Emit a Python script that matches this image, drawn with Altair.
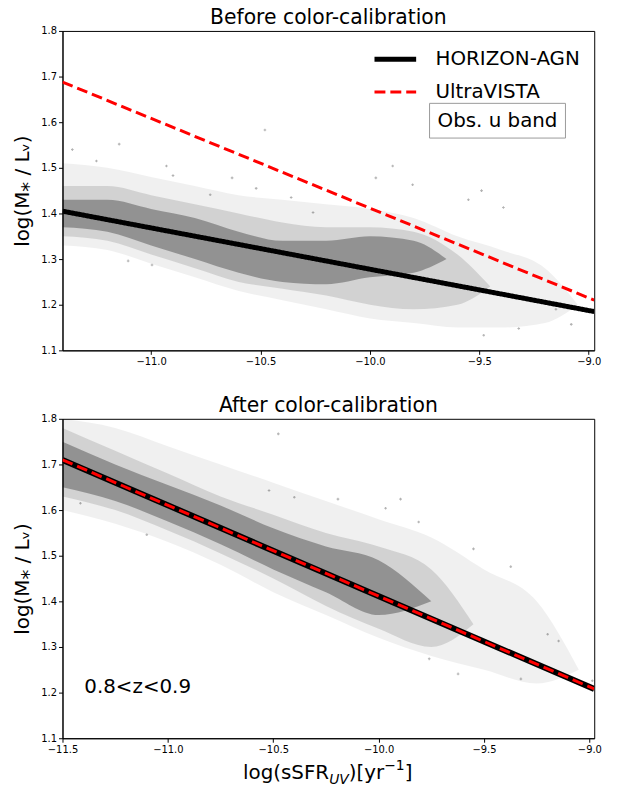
import altair as alt
import pandas as pd

FONT = "DejaVu Sans"
W, H = 536, 322

# ---------------- top panel: before colour calibration ----------------
top_x_domain = [-11.405, -8.975]
top_x_ticks = [-11.0, -10.5, -10.0, -9.5, -9.0]
top_fit_x = [-11.405, -8.975]
top_horizon_y = [1.405, 1.185]
top_vista_y = [1.688, 1.210]

top_outer_x = [-11.405, -11.2, -11.0, -10.8, -10.6, -10.4, -10.2, -10.0, -9.8, -9.6, -9.4, -9.2, -9.05]
top_outer_lo = [1.33, 1.32, 1.29, 1.26, 1.23, 1.21, 1.19, 1.17, 1.16, 1.15, 1.15, 1.16, 1.20]
top_outer_hi = [1.51, 1.50, 1.48, 1.46, 1.44, 1.43, 1.42, 1.41, 1.39, 1.35, 1.32, 1.28, 1.20]

top_mid_x = [-11.405, -11.2, -11.0, -10.8, -10.6, -10.4, -10.2, -10.0, -9.8, -9.6, -9.45]
top_mid_lo = [1.35, 1.34, 1.31, 1.28, 1.25, 1.235, 1.22, 1.20, 1.19, 1.20, 1.24]
top_mid_hi = [1.46, 1.46, 1.44, 1.42, 1.40, 1.38, 1.37, 1.37, 1.36, 1.31, 1.24]

top_core_x = [-11.405, -11.2, -11.0, -10.8, -10.6, -10.4, -10.2, -10.0, -9.8, -9.65]
top_core_lo = [1.37, 1.36, 1.33, 1.30, 1.27, 1.25, 1.245, 1.26, 1.27, 1.30]
top_core_hi = [1.43, 1.43, 1.41, 1.39, 1.36, 1.34, 1.34, 1.35, 1.34, 1.30]

top_pts_x = [-11.36, -11.25, -11.146, -11.105, -10.996, -10.48, -9.973, -9.896, -9.805,
             -9.55, -9.49, -9.39, -9.48, -9.32, -9.15, -9.08, -10.93, -10.90, -10.63,
             -10.52, -10.73, -10.36, -10.26]
top_pts_y = [1.54, 1.515, 1.552, 1.296, 1.287, 1.583, 1.478, 1.504, 1.463,
             1.43, 1.45, 1.413, 1.133, 1.148, 1.19, 1.157, 1.504, 1.483, 1.478,
             1.455, 1.441, 1.435, 1.402]

# ---------------- bottom panel: after colour calibration ----------------
bot_x_domain = [-11.5, -8.977]
bot_x_ticks = [-11.5, -11.0, -10.5, -10.0, -9.5, -9.0]
bot_fit_x = [-11.5, -8.977]
bot_fit_y = [1.71, 1.208]

bot_outer_x = [-11.5, -11.25, -11.0, -10.75, -10.5, -10.25, -10.0, -9.75, -9.5, -9.25, -9.05]
bot_outer_lo = [1.60, 1.57, 1.53, 1.48, 1.42, 1.37, 1.32, 1.28, 1.25, 1.22, 1.25]
bot_outer_hi = [1.80, 1.78, 1.74, 1.70, 1.66, 1.62, 1.58, 1.54, 1.47, 1.40, 1.25]

bot_mid_x = [-11.5, -11.25, -11.0, -10.75, -10.5, -10.25, -10.0, -9.75, -9.55]
bot_mid_lo = [1.63, 1.60, 1.555, 1.505, 1.45, 1.39, 1.34, 1.30, 1.35]
bot_mid_hi = [1.78, 1.73, 1.68, 1.63, 1.59, 1.55, 1.52, 1.47, 1.35]

bot_core_x = [-11.5, -11.25, -11.0, -10.75, -10.5, -10.25, -10.0, -9.75]
bot_core_lo = [1.65, 1.62, 1.575, 1.525, 1.47, 1.42, 1.37, 1.40]
bot_core_hi = [1.75, 1.70, 1.655, 1.61, 1.56, 1.52, 1.49, 1.40]

bot_pts_x = [-11.415, -11.10, -10.52, -10.476, -10.40, -10.193, -9.967, -9.896, -9.81,
             -9.55, -9.373, -9.198, -9.146, -9.325, -8.986, -9.623, -9.76]
bot_pts_y = [1.615, 1.546, 1.643, 1.767, 1.628, 1.624, 1.604, 1.624, 1.574,
             1.515, 1.476, 1.328, 1.313, 1.23, 1.226, 1.241, 1.274]

y_ticks = [1.1, 1.2, 1.3, 1.4, 1.5, 1.6, 1.7, 1.8]
series_names = ["HORIZON-AGN", "UltraVISTA"]
Y_TITLE = "log(M\u204e / L\u1d65)"
LABEL_EXPR = "replace(format(datum.value, '.1f'), '-', '\u2212')"


def x_enc(field, domain, ticks):
    return alt.X(f"{field}:Q", title=None,
                 scale=alt.Scale(domain=domain, nice=False, zero=False),
                 axis=alt.Axis(values=ticks, labelExpr=LABEL_EXPR, grid=False,
                               tickSize=4, labelPadding=2, labelFontSize=10,
                               labelFlush=False,
                               labelColor="black", tickColor="black",
                               domainColor="black", labelFont=FONT))


def y_enc(field):
    return alt.Y(f"{field}:Q", title=Y_TITLE,
                 scale=alt.Scale(domain=[1.1, 1.8], nice=False, zero=False),
                 axis=alt.Axis(values=y_ticks, format=".1f", grid=False,
                               tickSize=4, labelPadding=2, labelFontSize=10,
                               labelFlush=False,
                               labelColor="black", tickColor="black",
                               domainColor="black", labelFont=FONT,
                               titleFontSize=20, titleFontWeight="normal",
                               titleFont=FONT, titleColor="black", titlePadding=8))


def bands(xs, los, his, opacity, domain, ticks):
    df = pd.DataFrame({"x": xs, "lo": los, "hi": his})
    return alt.Chart(df).mark_area(color="black", opacity=opacity,
                                   interpolate="monotone", clip=True).encode(
        x=x_enc("x", domain, ticks), y=y_enc("lo"), y2="hi:Q")


def points(xs, ys, domain, ticks):
    df = pd.DataFrame({"x": xs, "y": ys})
    return alt.Chart(df).mark_point(shape="cross", size=7, filled=True,
                                    color="black", opacity=0.3, clip=True).encode(
        x=x_enc("x", domain, ticks), y=y_enc("y"))


# ---- top panel ----
top_lines_df = pd.DataFrame({
    "x": top_fit_x + top_fit_x,
    "y": top_horizon_y + top_vista_y,
    "series": [series_names[0]] * 2 + [series_names[1]] * 2,
})
leg = dict(orient="none", legendX=312, legendY=5, padding=0, labelFontSize=20,
           labelFont=FONT, labelColor="black", labelOffset=17, rowPadding=-4,
           symbolType="stroke", symbolSize=1764, labelLimit=300)
top_lines = alt.Chart(top_lines_df).mark_line(clip=True, strokeCap="butt").encode(
    x=x_enc("x", top_x_domain, top_x_ticks), y=y_enc("y"),
    color=alt.Color("series:N", title=None,
                    scale=alt.Scale(domain=series_names, range=["black", "red"]),
                    legend=alt.Legend(**leg)),
    strokeDash=alt.StrokeDash("series:N", title=None,
                              scale=alt.Scale(domain=series_names, range=[[1, 0], [11, 5]]),
                              legend=alt.Legend(**leg)),
    strokeWidth=alt.StrokeWidth("series:N", title=None,
                                scale=alt.Scale(domain=series_names, range=[5, 3]),
                                legend=alt.Legend(**leg)),
)

box_df = pd.DataFrame({"t": ["Obs. u band"]})
box_rect = alt.Chart(box_df).mark_rect(fill="white", stroke="#9a9a9a", strokeWidth=1).encode(
    x=alt.value(370), x2=alt.value(507), y=alt.value(73), y2=alt.value(108))
box_text = alt.Chart(box_df).mark_text(fontSize=20, font=FONT, color="black",
                                       align="center", baseline="middle").encode(
    x=alt.value(438.5), y=alt.value(91), text="t:N")

TITLE_KW = dict(fontSize=20.5, fontWeight="normal", font=FONT, color="black", offset=-3)

top = alt.layer(
    bands(top_outer_x, top_outer_lo, top_outer_hi, 0.06, top_x_domain, top_x_ticks),
    bands(top_mid_x, top_mid_lo, top_mid_hi, 0.12, top_x_domain, top_x_ticks),
    bands(top_core_x, top_core_lo, top_core_hi, 0.30, top_x_domain, top_x_ticks),
    points(top_pts_x, top_pts_y, top_x_domain, top_x_ticks),
    top_lines, box_rect, box_text,
).properties(
    width=W, height=H,
    title=alt.TitleParams("Before color-calibration", **TITLE_KW),
)

# ---- bottom panel ----
bot_df = pd.DataFrame({"x": bot_fit_x, "y": bot_fit_y})
bot_black = alt.Chart(bot_df).mark_line(color="black", strokeWidth=6, clip=True,
                                        strokeCap="butt").encode(
    x=x_enc("x", bot_x_domain, bot_x_ticks), y=y_enc("y"))
bot_red = alt.Chart(bot_df).mark_line(color="red", strokeWidth=3, strokeDash=[11, 5],
                                      clip=True, strokeCap="butt").encode(
    x=x_enc("x", bot_x_domain, bot_x_ticks), y=y_enc("y"))

z_df = pd.DataFrame({"t": ["0.8<z<0.9"]})
z_text = alt.Chart(z_df).mark_text(fontSize=20, font=FONT, color="black",
                                   align="left", baseline="middle").encode(
    x=alt.value(22), y=alt.value(270), text="t:N")

# composite x-axis title: log(sSFR_UV)[yr^-1]
xt_parts = [("log(sSFR", 182.0, 363, 20, "normal"),
            ("UV", 268.8, 368, 14, "italic"),
            (")[yr", 288.6, 363, 20, "normal"),
            ("\u22121", 324.3, 354, 14, "normal"),
            ("]", 344.9, 363, 20, "normal")]
xt_layers = []
for txt, px, py, fs, style in xt_parts:
    d = pd.DataFrame({"t": [txt]})
    xt_layers.append(alt.Chart(d).mark_text(fontSize=fs, font=FONT, fontStyle=style,
                                            color="black", align="left",
                                            baseline="alphabetic").encode(
        x=alt.value(px), y=alt.value(py), text="t:N"))

bottom = alt.layer(
    bands(bot_outer_x, bot_outer_lo, bot_outer_hi, 0.06, bot_x_domain, bot_x_ticks),
    bands(bot_mid_x, bot_mid_lo, bot_mid_hi, 0.12, bot_x_domain, bot_x_ticks),
    bands(bot_core_x, bot_core_lo, bot_core_hi, 0.30, bot_x_domain, bot_x_ticks),
    points(bot_pts_x, bot_pts_y, bot_x_domain, bot_x_ticks),
    bot_black, bot_red, z_text, *xt_layers,
).properties(
    width=W, height=H,
    title=alt.TitleParams("After color-calibration", **TITLE_KW),
)

chart = alt.vconcat(top, bottom, spacing=29).resolve_scale(
    x="independent", y="independent", color="independent",
    strokeDash="independent", strokeWidth="independent",
).properties(
    padding={"left": 12, "top": 5, "right": 20, "bottom": 0},
    background="white",
).configure(font=FONT).configure_view(stroke="black", strokeWidth=1)

chart.save("out.html", embed_options={"renderer": "svg", "actions": False})
